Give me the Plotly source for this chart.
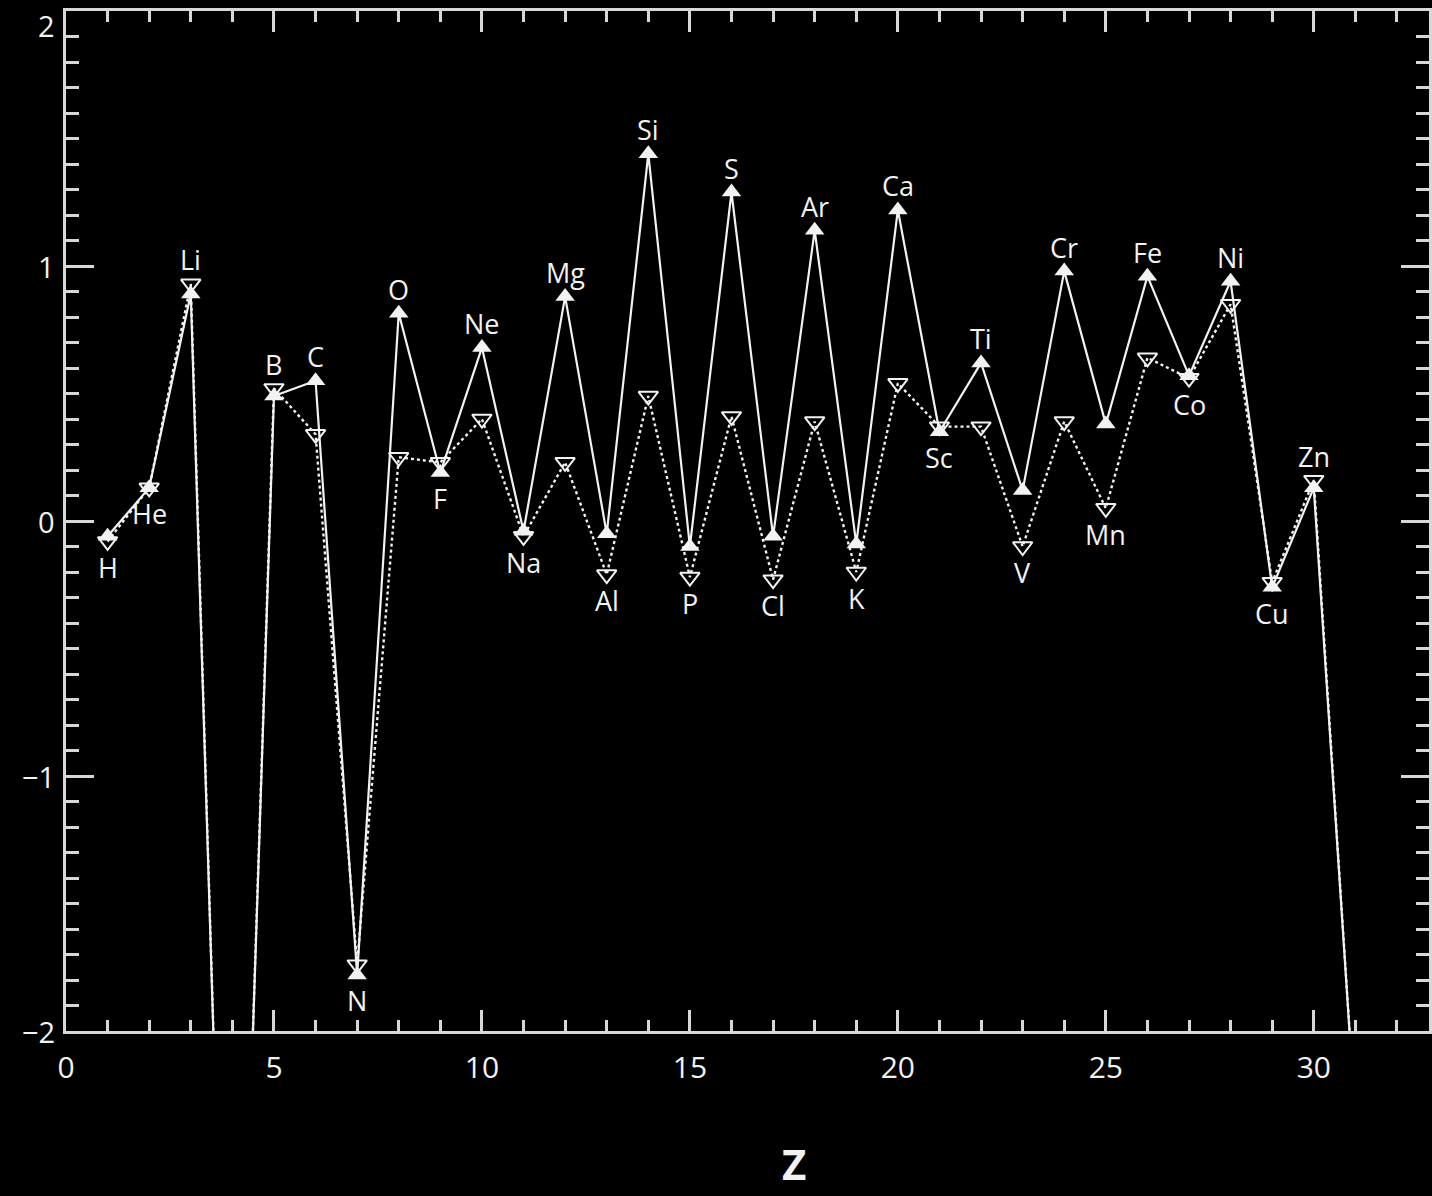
import plotly.graph_objects as go

# ---- data ----
Z = list(range(1, 32))
elements = ["H", "He", "Li", "Be", "B", "C", "N", "O", "F", "Ne", "Na", "Mg", "Al", "Si", "P",
            "S", "Cl", "Ar", "K", "Ca", "Sc", "Ti", "V", "Cr", "Mn", "Fe", "Co", "Ni", "Cu", "Zn", "Ga"]
solid_vals = [-0.06, 0.13, 0.89, -4.45, 0.49, 0.55, -1.78, 0.815, 0.19, 0.68, -0.04, 0.88, -0.05, 1.44, -0.10,
              1.29, -0.06, 1.14, -0.09, 1.22, 0.35, 0.62, 0.12, 0.98, 0.38, 0.96, 0.57, 0.94, -0.26, 0.13, -2.35]
dotted_vals = [-0.08, 0.13, 0.93, -4.45, 0.52, 0.34, -1.74, 0.25, 0.23, 0.40, -0.06, 0.23, -0.21, 0.49, -0.22,
               0.41, -0.23, 0.39, -0.20, 0.54, 0.37, 0.37, -0.10, 0.39, 0.05, 0.64, 0.56, 0.85, -0.24, 0.16, -2.35]
label_above = [False, False, True, False, True, True, False, True, False, True, False, True, False, True, False,
               True, False, True, False, True, False, True, False, True, False, True, False, True, False, True, False]
labelled = [True] * 3 + [False] + [True] * 26 + [False]
y_ticks = [-2, -1, 0, 1]
y_tick_text = ["\u22122", "\u22121", "0", "1"]
y_top_tick = 2

FG = "#f2f2f2"
AX = "#d8d8d8"
FONT = "Open Sans"

fig = go.Figure()
fig.add_trace(go.Scatter(
    x=Z, y=dotted_vals, mode="lines+markers",
    line=dict(color=FG, width=2.4, dash="dot"),
    marker=dict(symbol="triangle-down-open", size=17, color=FG, line=dict(width=2, color=FG)),
    showlegend=False, cliponaxis=True,
))
fig.add_trace(go.Scatter(
    x=Z, y=solid_vals, mode="lines+markers",
    line=dict(color=FG, width=2.2),
    marker=dict(symbol="triangle-up", size=17, color=FG, line=dict(width=0)),
    showlegend=False, cliponaxis=True,
))

for z, el, s, d, above, lab in zip(Z, elements, solid_vals, dotted_vals, label_above, labelled):
    if not lab:
        continue
    if above:
        yv, shift = max(s, d), 24
    else:
        yv, shift = min(s, d), -26
    fig.add_annotation(x=z, y=yv, text=el, showarrow=False, yshift=shift, xanchor="center",
                       yanchor="middle", font=dict(family=FONT, size=27, color=FG))

# top y tick label (placed just below the top edge, as in the original)
fig.add_annotation(x=0, xref="paper", y=y_top_tick, yref="y", text=str(y_top_tick), showarrow=False,
                   xanchor="right", yanchor="top", xshift=-9, yshift=7,
                   font=dict(family=FONT, size=29, color=FG))

fig.add_annotation(x=17.5, xref="x", y=-0.13, yref="paper", text="<b>Z</b>", showarrow=False,
                   xanchor="center", yanchor="middle", font=dict(family=FONT, size=42, color=FG))

fig.update_layout(
    width=1432, height=1196,
    margin=dict(l=66, r=0, t=11, b=165),
    paper_bgcolor="black", plot_bgcolor="black",
    font=dict(family=FONT, size=26, color=FG),
)
fig.update_xaxes(
    range=[0, 32.77], showgrid=False, zeroline=False,
    showline=True, linecolor=AX, linewidth=3, mirror="ticks",
    ticks="inside", tickmode="linear", tick0=0, dtick=5, ticklen=21, tickwidth=2.5, tickcolor=AX,
    minor=dict(ticks="inside", dtick=1, tick0=0, ticklen=11, tickwidth=2.5, tickcolor=AX, showgrid=False),
    tickfont=dict(family=FONT, size=30, color=FG), ticklabelstandoff=8,
)
fig.update_yaxes(
    range=[-2, 2], showgrid=False, zeroline=False,
    showline=True, linecolor=AX, linewidth=3, mirror="ticks",
    ticks="inside", tickmode="linear", tick0=0, dtick=1,
    ticklen=28, tickwidth=2.5, tickcolor=AX,
    minor=dict(ticks="inside", tickmode="linear", tick0=0, dtick=0.1, ticklen=13, tickwidth=2.5,
               tickcolor=AX, showgrid=False),
    showticklabels=False,
)
for tv, tt in zip(y_ticks, y_tick_text):
    fig.add_annotation(x=0, xref="paper", y=tv, yref="y", text=tt, showarrow=False,
                       xanchor="right", yanchor="middle", xshift=-9,
                       font=dict(family=FONT, size=29, color=FG))

fig.write_html(
    "out.html",
    config={"displayModeBar": False},
    post_script="document.body.style.margin='0';document.body.style.background='black';"
                "document.documentElement.style.background='black';",
)
